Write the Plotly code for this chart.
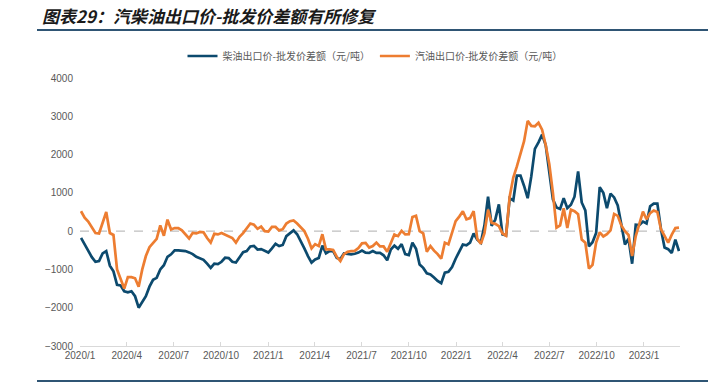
import pandas as pd
import plotly.graph_objects as go

# weekly observation dates
dates = pd.date_range("2020-01-03", periods=167, freq="7D")

diesel = [
    -175, -350, -530, -680, -800, -780, -580, -520, -900, -1050,
    -1400, -1420, -1570, -1600, -1570, -1700, -2000, -1830, -1700, -1450,
    -1270, -1220, -1000, -890, -670, -605, -500, -500, -505, -520,
    -555, -600, -670, -700, -750, -850, -960, -850, -860, -800,
    -695, -705, -800, -820, -695, -550, -520, -400, -385, -480,
    -470, -520, -560, -450, -330, -390, -360, -130, -50, 20,
    -80, -250, -450, -650, -820, -740, -700, -380, -580, -520,
    -520, -700, -730, -580, -600, -605, -590, -560, -505, -560,
    -570, -520, -570, -570, -630, -760, -480, -380, -460, -340,
    -600, -625, -300, -460, -870, -960, -1100, -1130, -1210, -1300,
    -1360, -1085, -1060, -940, -720, -520, -350, -370, -300, -60,
    -220, -300, 150, 900, 140, 300, 700, -85, -110, 860,
    800, 1450, 1450, 1180, 860, 1430, 2150, 2320, 2520, 2250,
    1550, 830, 620, 580, 860, 600, 690, 900, 1560, 750,
    540, -400, -290, -50, 1150, 1000, 600, 980, 880, 670,
    175, -350, -200, -850, 170, 160, 250, 200, 650, 720,
    720, 50, -430, -470, -570, -220, -520,
]

gasoline = [
    520, 350, 250, 100, -50, -60, 250, 500, -50, -100,
    -1000, -1250, -1500, -1200, -1200, -1230, -1450, -1000, -650, -420,
    -300, -200, 150, -120, 300, 45, 80, 80, 20, -90,
    -190, -45, -60, -20, -30, -180, -300, -70, -85, -50,
    -100, -130, -180, -300, -150, -50, 80, 200, 170, 60,
    120, 0, -10, 110, 110, 20, 50, 200, 260, 280,
    200, 100, 0, -200, -450, -340, -390, -80, -475, -475,
    -490, -670, -780, -600, -540, -520, -515, -440, -320, -310,
    -430, -390, -300, -400, -400, -540, -330, -90, -130, 10,
    -85, -80, 370, 400, 0, -60, -540, -390, -510, -600,
    -720, -300, -345, -60, 260, 380, 520, 310, 340, 520,
    -200, -330, -50, 560, 215, 190, 130, -60, -120, 900,
    1400, 1690, 2000, 2350, 2880, 2750, 2740, 2830, 2650, 2250,
    1750, 1000, 90, 150, 600, 80, 560, 520, 440, -220,
    -300, -980, -880, -300, -30, -140, -80, 20, 450, 400,
    150, 0, -100, -650, -130, 190, 510, 310, 470, 540,
    500, 50, -130, -300, -90, 80, 90,
]

series_names = ["柴油出口价-批发价差额（元/吨）", "汽油出口价-批发价差额（元/吨）"]
series_colors = ["#0c4a6e", "#ed7d31"]

tick_vals = ["2020-01-01", "2020-04-01", "2020-07-01", "2020-10-01",
             "2021-01-01", "2021-04-01", "2021-07-01", "2021-10-01",
             "2022-01-01", "2022-04-01", "2022-07-01", "2022-10-01",
             "2023-01-01"]
tick_text = ["2020/1", "2020/4", "2020/7", "2020/10",
             "2021/1", "2021/4", "2021/7", "2021/10",
             "2022/1", "2022/4", "2022/7", "2022/10",
             "2023/1"]
y_ticks = [-3000, -2000, -1000, 0, 1000, 2000, 3000, 4000]

title_text = "图表29：汽柴油出口价-批发价差额有所修复"

FONT = "Liberation Sans, Arial, Noto Sans CJK SC, sans-serif"
CJK = "Noto Sans CJK SC, sans-serif"

fig = go.Figure()
for name, vals, col in zip(series_names, [diesel, gasoline], series_colors):
    fig.add_trace(go.Scatter(
        x=dates, y=vals, name=name, mode="lines",
        line=dict(color=col, width=2.7),
    ))

W, H = 708, 387
L, R, T, B = 80, 28, 78, 41
pw, ph = W - L - R, H - T - B


def px_x(px):
    return (px - L) / pw


def px_y(py):
    return (H - B - py) / ph


fig.update_layout(
    width=W, height=H,
    margin=dict(l=L, r=R, t=T, b=B),
    paper_bgcolor="white", plot_bgcolor="white",
    font=dict(family=FONT, size=10, color="#595959"),
    showlegend=True,
    legend=dict(
        orientation="h", x=px_x(375), xanchor="center",
        y=px_y(56), yanchor="middle",
        font=dict(family=CJK, size=10, color="#595959"),
        itemwidth=30, tracegroupgap=0,
        bgcolor="rgba(0,0,0,0)",
    ),
    xaxis=dict(
        type="date",
        range=["2020-01-01", "2023-03-12"],
        tickvals=tick_vals, ticktext=tick_text,
        showgrid=False, zeroline=False,
        showline=True, linecolor="#d9d9d9", linewidth=1,
        ticks="inside", ticklen=4, tickcolor="#d9d9d9",
        tickfont=dict(family=FONT, size=10, color="#595959"),
    ),
    yaxis=dict(
        range=[-3000, 4000],
        tickvals=y_ticks,
        showgrid=False, zeroline=False, showline=False,
        ticks="",
        tickfont=dict(family=FONT, size=10, color="#595959"),
        ticklabelstandoff=6,
    ),
)

# dashed zero reference line
fig.add_shape(type="line", xref="paper", yref="y", x0=0, x1=1, y0=0, y1=0,
              line=dict(color="#bfbfbf", width=1.2, dash="dash"), layer="below")

# title and rules
fig.add_annotation(
    text="<b><i>" + title_text + "</i></b>", xref="paper", yref="paper",
    x=px_x(40), y=px_y(15), xanchor="left", yanchor="middle",
    showarrow=False, font=dict(family=CJK, size=17, color="#1a1a1a"),
)
fig.add_shape(type="line", xref="paper", yref="paper",
              x0=px_x(37), x1=px_x(708), y0=px_y(30), y1=px_y(30),
              line=dict(color="#2f5574", width=2))
fig.add_shape(type="line", xref="paper", yref="paper",
              x0=px_x(37), x1=px_x(708), y0=px_y(381), y1=px_y(381),
              line=dict(color="#2f5574", width=2))

fig.write_html("out.html",
               config={"displayModeBar": False},
               post_script="document.body.style.margin='0';document.body.style.overflow='hidden';")
